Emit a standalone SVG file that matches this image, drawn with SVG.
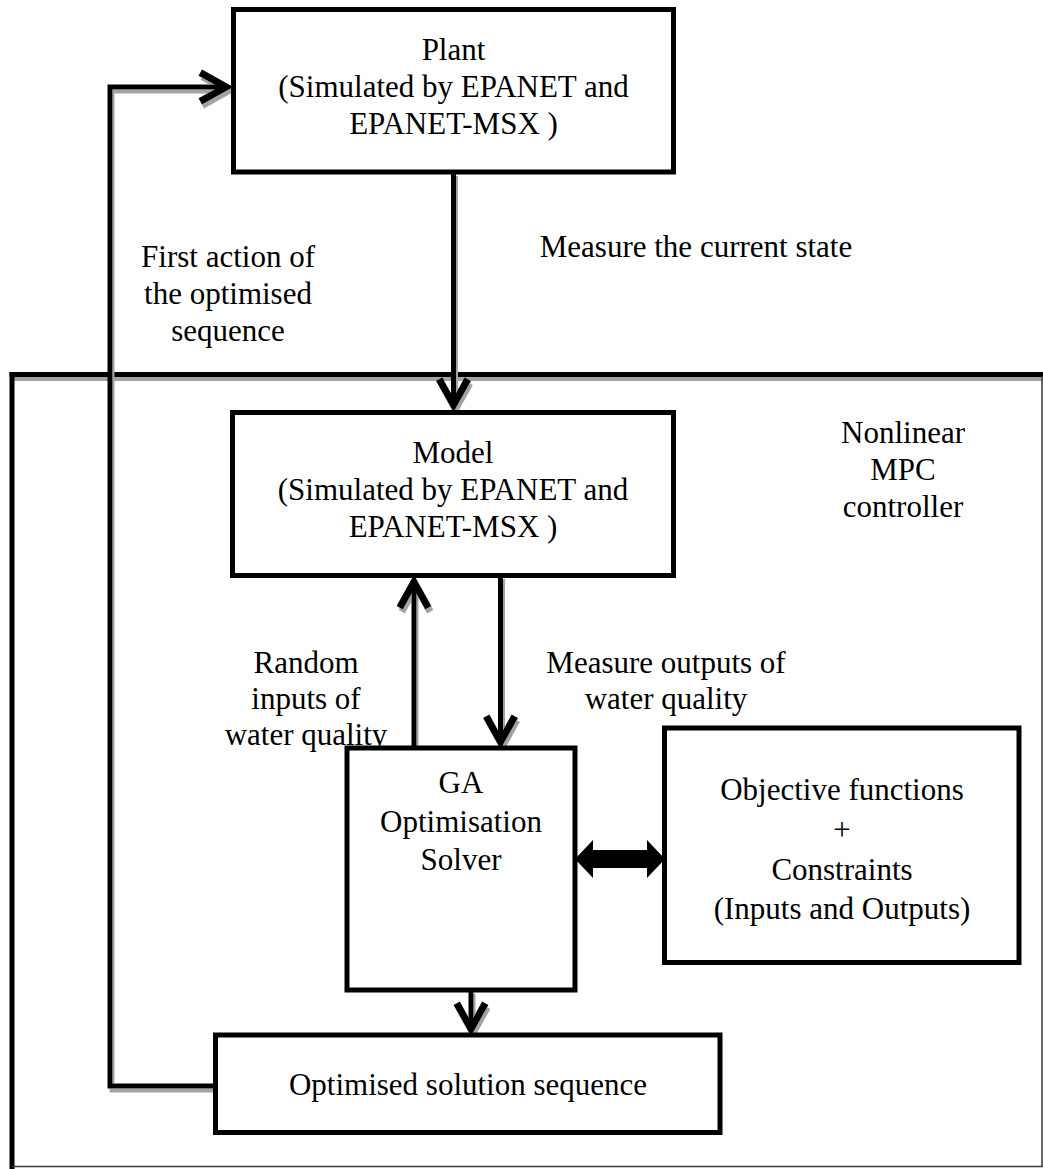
<svg xmlns="http://www.w3.org/2000/svg" width="1043" height="1169" viewBox="0 0 1043 1169">
  <style>
    .box { fill: #ffffff; stroke: #000000; stroke-width: 5; }
    .wire { fill: none; stroke: #000000; stroke-width: 5; stroke-linejoin: miter; }
    .edge { fill: none; stroke: #000000; stroke-width: 5; }
    .thin { fill: none; stroke: #3a3a3a; stroke-width: 1.5; }
    text { font-family: "Liberation Serif", "Times New Roman", serif; font-size: 31px; fill: #000000; text-anchor: middle; }
  </style>
  <defs>
    <!-- grey offset copy drawn under strokes -->
    <filter id="shade" filterUnits="userSpaceOnUse" x="0" y="0" width="1043" height="1169">
      <feFlood flood-color="#a3a3a3" result="grey"/>
      <feComposite in="grey" in2="SourceAlpha" operator="in" result="mask"/>
      <feOffset in="mask" dx="1.5" dy="3.5" result="drop"/>
      <feMerge>
        <feMergeNode in="drop"/>
        <feMergeNode in="SourceGraphic"/>
      </feMerge>
    </filter>
    <!-- open chevron arrowhead -->
    <marker id="chev" markerUnits="userSpaceOnUse" markerWidth="40" markerHeight="40" refX="0" refY="0" viewBox="-22 -14 26 28" orient="auto" overflow="visible">
      <path d="M-18,-10 L0,0 L-18,10" fill="none" stroke="#000000" stroke-width="5" stroke-linejoin="miter"/>
    </marker>
  </defs>

  <rect width="1043" height="1169" fill="#ffffff"/>

  <!-- controller boundary -->
  <g id="mpc-controller">
    <g filter="url(#shade)">
      <line class="edge" x1="9.5" y1="374.5" x2="1043" y2="374.5"/>
    </g>
    <line class="edge" x1="12" y1="372" x2="12" y2="1169"/>
    <line class="thin" x1="1042" y1="376" x2="1042" y2="1167"/>
    <line class="thin" x1="12" y1="1166.5" x2="1043" y2="1166.5"/>
    <text x="903" y="443">Nonlinear</text>
    <text x="903" y="480">MPC</text>
    <text x="903" y="517">controller</text>
  </g>

  <!-- connectors -->
  <g id="connectors">
    <g filter="url(#shade)">
      <line class="wire" x1="453.5" y1="172" x2="453.5" y2="405" marker-end="url(#chev)"/>
      <polyline class="wire" points="215.5,1086 110,1086 110,87 226,87" marker-end="url(#chev)"/>
      <line class="wire" x1="500.5" y1="575" x2="500.5" y2="742" marker-end="url(#chev)"/>
      <line class="wire" x1="414" y1="748" x2="414" y2="582" marker-end="url(#chev)"/>
      <line class="wire" x1="471" y1="990" x2="471" y2="1029" marker-end="url(#chev)"/>
    </g>
    <polygon points="575,859 593,840 593,850 647,850 647,840 665,859 647,878 647,868 593,868 593,878" fill="#000000"/>
    <text x="696" y="257">Measure the current state</text>
    <text x="228" y="267">First action of</text>
    <text x="228" y="304">the optimised</text>
    <text x="228" y="341">sequence</text>
    <text x="306" y="673">Random</text>
    <text x="306" y="709">inputs of</text>
    <text x="306" y="745">water quality</text>
    <text x="666" y="673">Measure outputs of</text>
    <text x="666" y="709">water quality</text>
  </g>

  <g id="plant">
    <rect class="box" x="233.5" y="9.5" width="440" height="162.5"/>
    <text x="453.5" y="60">Plant</text>
    <text x="453.5" y="97">(Simulated by EPANET and</text>
    <text x="453.5" y="134">EPANET-MSX )</text>
  </g>

  <g id="model">
    <rect class="box" x="232.5" y="412.5" width="441" height="163"/>
    <text x="453" y="463">Model</text>
    <text x="453" y="500">(Simulated by EPANET and</text>
    <text x="453" y="537">EPANET-MSX )</text>
  </g>

  <g id="ga-solver">
    <rect class="box" x="347" y="748" width="228" height="242"/>
    <text x="461" y="793">GA</text>
    <text x="461" y="832">Optimisation</text>
    <text x="461" y="870">Solver</text>
  </g>

  <g id="objectives">
    <rect class="box" x="664.5" y="728" width="354.5" height="234.5"/>
    <text x="842" y="800">Objective functions</text>
    <text x="842" y="840">+</text>
    <text x="842" y="880">Constraints</text>
    <text x="842" y="919">(Inputs and Outputs)</text>
  </g>

  <g id="solution-sequence">
    <rect class="box" x="215.5" y="1035" width="504.5" height="97.5"/>
    <text x="468" y="1095">Optimised solution sequence</text>
  </g>
</svg>
